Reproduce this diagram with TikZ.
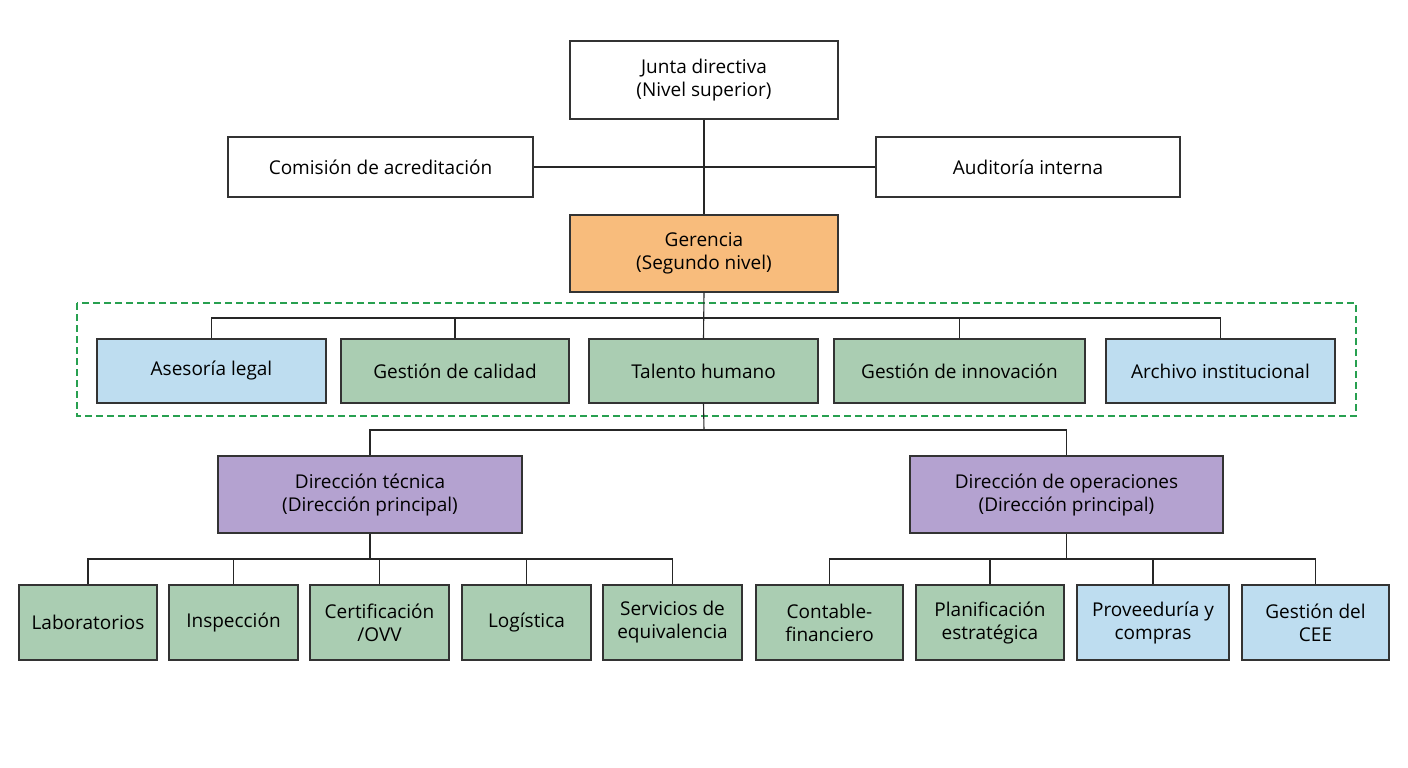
\documentclass[tikz,border=0pt]{standalone}
\usepackage{fontspec}
\setmainfont{Open Sans}
\begin{document}
\begin{tikzpicture}[x=1pt,y=-1pt,
  box/.style={draw=black!80,line width=1.1pt,align=center,inner sep=0pt,font=\fontsize{19}{23}\selectfont},
  wh/.style={box,fill=white},
  og/.style={box,fill=orange!55!white},
  bl/.style={box,fill=cyan!18!blue!12!white},
  gr/.style={box,fill=green!30!teal!25!white},
  pu/.style={box,fill=violet!35!white},
  ln/.style={line width=1.1pt,draw=black!85}]
\useasboundingbox (0,0) rectangle (1408,768);
\newcommand\bx[6]{\node[#1,minimum width=#4-#3,minimum height=#6-#5] (#2) at ({(#3+#4)/2},{(#5+#6)/2})}
\colorlet{myblue}{white}
\tikzset{bl/.style={box,fill={rgb,255:red,190;green,221;blue,240}},
 gr/.style={box,fill={rgb,255:red,170;green,205;blue,178}},
 pu/.style={box,fill={rgb,255:red,180;green,162;blue,208}},
 og/.style={box,fill={rgb,255:red,248;green,188;blue,124}}}
\draw[dashed,line width=1.6pt,draw={rgb,255:red,40;green,160;blue,80},dash pattern=on 7pt off 4pt] (77,303) rectangle (1356,416);
\bx{wh}{junta}{570}{838}{41}{119}{Junta directiva\\(Nivel superior)};
\bx{wh}{com}{228}{533}{137}{197}{Comisión de acreditación};
\bx{wh}{aud}{876}{1180}{137}{197}{Auditoría interna};
\bx{og}{ger}{570}{838}{215}{292}{Gerencia\\(Segundo nivel)};
\bx{bl}{ase}{97}{326}{339}{403}{Asesoría legal};
\bx{gr}{cal}{341}{569}{339}{403}{Gestión de calidad};
\bx{gr}{tal}{589}{818}{339}{403}{Talento humano};
\bx{gr}{inn}{834}{1085}{339}{403}{Gestión de innovación};
\bx{bl}{arc}{1106}{1335}{339}{403}{Archivo institucional};
\bx{pu}{dt}{218}{522}{456}{533}{Dirección técnica\\(Dirección principal)};
\bx{pu}{do}{910}{1223}{456}{533}{Dirección de operaciones\\(Dirección principal)};
\bx{gr}{lab}{19}{157}{585}{660}{Laboratorios};
\bx{gr}{ins}{169}{298}{585}{660}{Inspección};
\bx{gr}{cer}{310}{449}{585}{660}{Certificación\\/OVV};
\bx{gr}{log}{462}{591}{585}{660}{Logística};
\bx{gr}{ser}{603}{742}{585}{660}{Servicios de\\equivalencia};
\bx{gr}{con}{756}{903}{585}{660}{Contable-\\financiero};
\bx{gr}{pla}{916}{1064}{585}{660}{Planificación\\estratégica};
\bx{bl}{pro}{1077}{1229}{585}{660}{Proveeduría y\\compras};
\bx{bl}{cee}{1242}{1389}{585}{660}{Gestión del\\CEE};
\draw[ln] (junta.south) -- (ger.north);
\draw[ln] (com.east) -- (aud.west);
\draw[ln] (ger.south) -- (tal.north);
\draw[ln] (ase.north) |- (704,318) -| (arc.north);
\draw[ln] (cal.north) -- (cal.north|-0,318);
\draw[ln] (inn.north) -- (inn.north|-0,318);
\draw[ln] (tal.south) -- (704,430);
\draw[ln] (dt.north) |- (704,430) -| (do.north);
\draw[ln] (dt.south) -- (dt.south|-0,559);
\draw[ln] (lab.north) |- (379,559) -| (ser.north);
\foreach \n in {ins,cer,log} \draw[ln] (\n.north) -- (\n.north|-0,559);
\draw[ln] (do.south) -- (do.south|-0,559);
\draw[ln] (con.north) |- (1066,559) -| (cee.north);
\foreach \n in {pla,pro} \draw[ln] (\n.north) -- (\n.north|-0,559);
\end{tikzpicture}
\end{document}
